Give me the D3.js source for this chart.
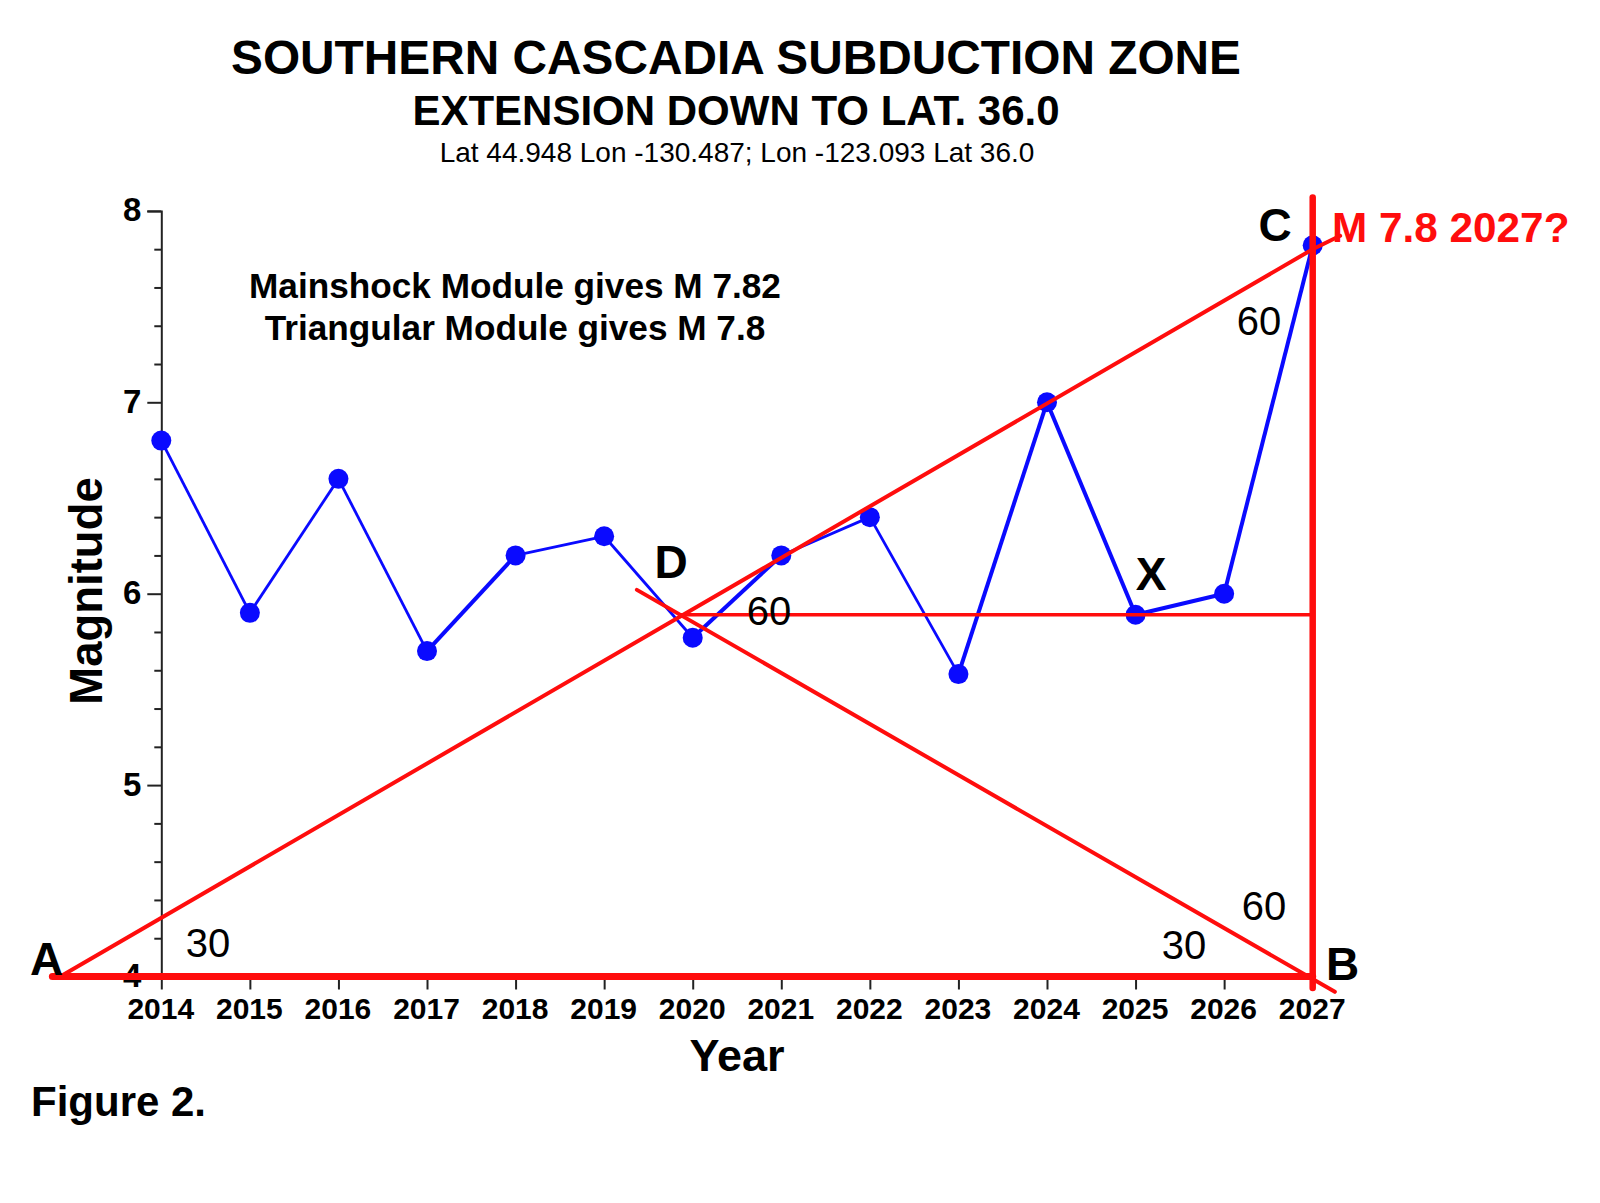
<!doctype html>
<html lang="en">
  <head>
    <meta charset="utf-8">
    <title>Southern Cascadia Subduction Zone</title>
    <style>
      body { margin: 0; background: #fff; }
      text { font-family: "Liberation Sans", Arial, sans-serif; fill: #000; }
      .b { font-weight: bold; }
    </style>
  </head>
  <body>
    <div id="chart"></div>
    <script src="https://d3js.org/d3.v7.min.js"></script>
    <script>
      var years = [2014, 2015, 2016, 2017, 2018, 2019, 2020, 2021, 2022, 2023, 2024, 2025, 2026, 2027]
      var magnitudes = [6.8, 5.9, 6.6, 5.7, 6.2, 6.3, 5.77, 6.2, 6.4, 5.58, 7.0, 5.89, 6.0, 7.82]
      // segments drawn heavier in the original, by starting year
      var heavyFrom = [2017, 2020, 2023, 2024, 2025, 2026]

      var magTicks = [4, 5, 6, 7, 8]
      var magMinorTicks = [4.2, 4.4, 4.6, 4.8, 5.2, 5.4, 5.6, 5.8, 6.2, 6.4, 6.6, 6.8, 7.2, 7.4, 7.6, 7.8]

      // triangle construction lines: year, magnitude
      var lineAC = [[2012.86, 4], [2027, 7.8], [2027.31, 7.87]]
      var lineAB = [[2012.77, 4], [2027, 4]]
      var lineBC = [[2027, 3.94], [2027, 8.07]]
      var lineBD = [[2027.25, 3.92], [2019.37, 6.02]]
      var lineDX = [[2019.86, 5.89], [2027, 5.89]]

      var svg = d3.select("#chart").append("svg").attr("width", 1600).attr("height", 1203)

      var x = d3.scaleLinear().domain([2014, 2027]).range([161.3, 1312.7])
      var y = d3.scaleLinear().domain([4, 8]).range([976.5, 210.9])
      var line = d3.line().x(function(d) { return x(d[0]) }).y(function(d) { return y(d[1]) })

      // axes
      var yMinor = svg.append("g").attr("transform", "translate(" + x(2014) + ",0)")
        .call(d3.axisLeft(y).tickValues(magMinorTicks).tickSize(7).tickFormat(""))
      yMinor.select(".domain").remove()
      yMinor.selectAll("line").attr("stroke", "#222").attr("stroke-width", 2)

      var yAxis = svg.append("g").attr("transform", "translate(" + x(2014) + ",0)")
        .call(d3.axisLeft(y).tickValues(magTicks).tickSize(14).tickSizeOuter(14).tickFormat(d3.format("d")).tickPadding(6))
      yAxis.select(".domain").attr("stroke", "#222").attr("stroke-width", 2)
      yAxis.selectAll("line").attr("stroke", "#222").attr("stroke-width", 2)
      yAxis.selectAll("text").attr("class", "b").style("font-size", "33px").attr("dy", "0.3em")

      var xAxis = svg.append("g").attr("transform", "translate(0," + y(4) + ")")
        .call(d3.axisBottom(x).tickValues(years).tickSize(13).tickSizeOuter(0).tickFormat(d3.format("d")).tickPadding(8))
      xAxis.select(".domain").attr("stroke", "#222").attr("stroke-width", 2)
      xAxis.selectAll("line").attr("stroke", "#222").attr("stroke-width", 2)
      xAxis.selectAll("text").attr("class", "b").style("font-size", "30px").attr("dx", "-1")

      // blue series
      var segs = d3.pairs(d3.zip(years, magnitudes))
      svg.append("g").selectAll("path").data(segs).enter().append("path")
        .attr("d", line)
        .attr("fill", "none")
        .attr("stroke", "#0a0aff")
        .attr("stroke-width", function(d) { return heavyFrom.indexOf(d[0][0]) >= 0 ? 4 : 2.8 })
      svg.append("g").selectAll("circle").data(d3.zip(years, magnitudes)).enter().append("circle")
        .attr("cx", function(d) { return x(d[0]) })
        .attr("cy", function(d) { return y(d[1]) })
        .attr("r", 10)
        .attr("fill", "#0a0aff")

      // red construction lines
      var red = svg.append("g").attr("fill", "none").attr("stroke", "#ff0d0d").attr("stroke-linecap", "round")
      red.append("path").attr("d", line(lineAC)).attr("stroke-width", 4)
      red.append("path").attr("d", line(lineBD)).attr("stroke-width", 4)
      red.append("path").attr("d", line(lineDX)).attr("stroke-width", 3.5)
      red.append("path").attr("d", line(lineAB)).attr("stroke-width", 7)
      red.append("path").attr("d", line(lineBC)).attr("stroke-width", 6.5)

      function label(str, px, py, size, cls, anchor, color) {
        var t = svg.append("text").text(str)
          .attr("x", px).attr("y", py)
          .attr("text-anchor", anchor || "middle")
          .style("font-size", size + "px")
        if (cls) t.attr("class", cls)
        if (color) t.style("fill", color)
        return t
      }

      // titles
      label("SOUTHERN CASCADIA SUBDUCTION ZONE", 736, 74, 47.8, "b")
      label("EXTENSION DOWN TO LAT. 36.0", 736, 125, 42, "b")
      label("Lat 44.948 Lon -130.487; Lon -123.093 Lat 36.0", 737, 162, 28)

      // notes
      label("Mainshock Module gives M 7.82", 515, 298, 35.2, "b")
      label("Triangular Module gives M 7.8", 515, 340, 35.2, "b")

      // axis titles
      label("Year", 737, 1071, 45, "b")
      label("Figure 2.", 31, 1116, 42, "b", "start")
      svg.append("text").text("Magnitude").attr("class", "b")
        .attr("text-anchor", "middle")
        .attr("transform", "translate(102,591) rotate(-90)")
        .style("font-size", "45.5px")

      // corner letters
      label("A", 30, 975, 46, "b", "start")
      label("B", 1326, 980, 46, "b", "start")
      label("C", 1275, 241, 46, "b")
      label("D", 671, 578, 46, "b")
      label("X", 1151, 590, 46, "b")

      // angles
      label("30", 208, 957, 40)
      label("60", 1259, 335, 40)
      label("60", 769, 625, 40)
      label("60", 1264, 920, 40)
      label("30", 1184, 959, 40)

      label("M 7.8 2027?", 1332, 242, 42.3, "b", "start", "#ff0d0d")
    </script>
  </body>
</html>
